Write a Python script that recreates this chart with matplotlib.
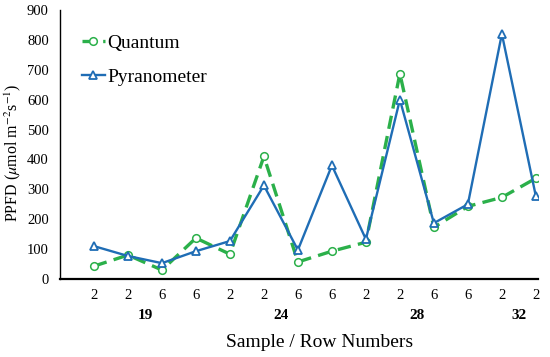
import matplotlib
matplotlib.use("Agg")
import matplotlib.pyplot as plt
import matplotlib.transforms as mtransforms
import numpy as np

# data
rows = ['2', '2', '6', '6', '2', '2', '6', '6', '2', '2', '6', '6', '2', '2']
samples = ['19', '24', '28', '32']
sample_sizes = [4, 4, 4, 2]
quantum = [43, 80, 30, 137, 83, 410, 57, 93, 123, 687, 173, 243, 273, 337]
pyranometer = [110, 77, 53, 93, 127, 313, 97, 380, 133, 600, 187, 250, 820, 277]

plt.rcParams['font.family'] = ['Liberation Serif', 'DejaVu Serif']
plt.rcParams['mathtext.fontset'] = 'stix'

green = '#2bb04a'
blue = '#1f6db5'

fig = plt.figure(figsize=(5.5, 3.57), dpi=100)
ax = fig.add_axes([0.109, 0.2185, 0.869, 0.7535])

x = np.arange(len(rows))
ax.plot(x, quantum, '--o', color=green, lw=2.4, dashes=(4, 2.2), ms=5.5,
        mfc='white', mec=green, mew=1.1, label='Quantum')
ax.plot(x, pyranometer, '-^', color=blue, lw=1.7, ms=6,
        mfc='white', mec=blue, mew=1.3, label='Pyranometer')

ax.set_xlim(-1, len(rows) - 1 + 0.06)
ax.set_ylim(0, 900)
ax.set_yticks(np.arange(0, 901, 100))
ax.set_xticks(x)
ax.set_xticklabels(rows)
ax.tick_params(axis='both', length=0, labelsize=10.5)
ax.tick_params(axis='x', pad=7)
ax.tick_params(axis='y', pad=8)
for s in ['top', 'right']:
    ax.spines[s].set_visible(False)
ax.spines['left'].set_linewidth(1.0)
ax.spines['bottom'].set_linewidth(1.6)

# group labels under the row numbers
trans = mtransforms.blended_transform_factory(ax.transData, ax.transAxes)
start = 0
for name, n in zip(samples, sample_sizes):
    ax.text(start + (n - 1) / 2, -0.135, name, transform=trans, ha='center',
            va='center', fontsize=11, fontweight='bold')
    start += n

ax.set_xlabel('Sample / Row Numbers', fontsize=14)
ax.xaxis.set_label_coords(0.544, -0.205)
ax.set_ylabel(r'PPFD ($\mu$mol m$^{-2}$s$^{-1}$)', fontsize=11.5)
ax.yaxis.set_label_coords(-0.078, 0.47)

ax.legend(loc='upper left', bbox_to_anchor=(0.01, 0.975), frameon=False,
          fontsize=14, handlelength=1.15, handletextpad=0.15, labelspacing=0.85)

fig.savefig('out.png', dpi=100)
